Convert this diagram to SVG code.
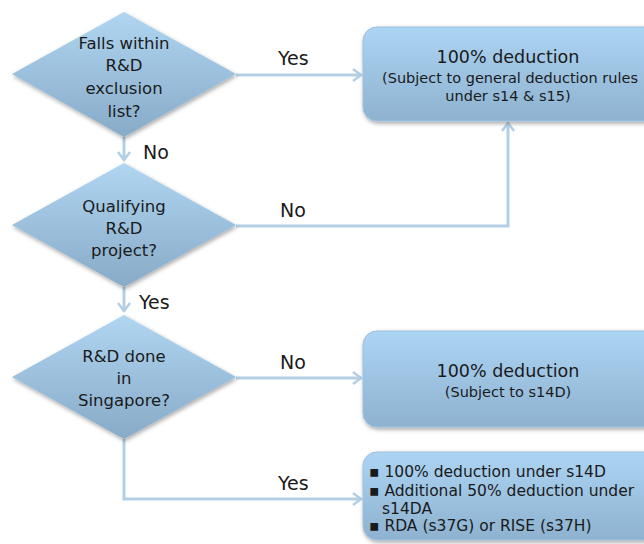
<svg xmlns="http://www.w3.org/2000/svg" width="644" height="544" viewBox="0 0 644 544">
<style>
text{font-family:"DejaVu Sans","Liberation Sans",sans-serif;fill:#1a1a1a}
.q{font-size:16.5px;text-anchor:middle}
.t{font-size:17.5px;text-anchor:middle}
.s{font-size:14.5px;text-anchor:middle}
.b{font-size:15.5px}
.lbl{font-size:19px}
.dia{fill:url(#gd);filter:url(#sh)}
.box{fill:url(#gb);stroke:#9cc0de;stroke-width:1;filter:url(#sh)}
.con{fill:none;stroke:#b3cfe5;stroke-width:3}
</style>
<defs>
<linearGradient id="gd" x1="0" y1="0" x2="0" y2="1">
<stop offset="0" stop-color="#b0d6f2"/>
<stop offset="1" stop-color="#87aac7"/>
</linearGradient>
<linearGradient id="gb" x1="0" y1="0" x2="0" y2="1">
<stop offset="0" stop-color="#acd4f3"/>
<stop offset="1" stop-color="#8eb2d0"/>
</linearGradient>
<filter id="sh" x="-10%" y="-10%" width="125%" height="130%">
<feDropShadow dx="1" dy="2" stdDeviation="2" flood-color="#000" flood-opacity="0.35"/>
</filter>
<marker id="ah" markerWidth="12" markerHeight="14" refX="10" refY="7" orient="auto" markerUnits="userSpaceOnUse">
<path d="M2,1 L10,7 L2,13" fill="none" stroke="#b3cfe5" stroke-width="2.5"/>
</marker>
</defs>
<g id="connectors">
<line class="con" x1="236" y1="75" x2="361" y2="75" marker-end="url(#ah)"/>
<line class="con" x1="124" y1="137" x2="124" y2="160" marker-end="url(#ah)"/>
<polyline class="con" points="236,226 508,226 508,123" marker-end="url(#ah)"/>
<line class="con" x1="124" y1="287" x2="124" y2="311" marker-end="url(#ah)"/>
<line class="con" x1="236" y1="378" x2="361" y2="378" marker-end="url(#ah)"/>
<polyline class="con" points="124,439 124,499 361,499" marker-end="url(#ah)"/>
<text class="lbl" x="278" y="65">Yes</text>
<text class="lbl" x="143" y="159">No</text>
<text class="lbl" x="280" y="217">No</text>
<text class="lbl" x="139" y="309">Yes</text>
<text class="lbl" x="280" y="369">No</text>
<text class="lbl" x="278" y="490">Yes</text>
</g>
<g id="q1">
<polygon class="dia" points="124,12 236,74 124,137 12,74"/>
<text class="q" x="124" y="49">Falls within</text>
<text class="q" x="124" y="71">R&amp;D</text>
<text class="q" x="124" y="94">exclusion</text>
<text class="q" x="124" y="117">list?</text>
</g>
<g id="q2">
<polygon class="dia" points="124,163 236,225 124,287 12,225"/>
<text class="q" x="124" y="212">Qualifying</text>
<text class="q" x="124" y="234">R&amp;D</text>
<text class="q" x="124" y="256">project?</text>
</g>
<g id="q3">
<polygon class="dia" points="124,315 236,377 124,439 12,377"/>
<text class="q" x="124" y="362">R&amp;D done</text>
<text class="q" x="124" y="384">in</text>
<text class="q" x="124" y="406">Singapore?</text>
</g>
<g id="r1">
<rect class="box" x="363" y="27" width="296" height="94" rx="14"/>
<text class="t" x="508" y="63">100% deduction</text>
<text class="s" x="510" y="83">(Subject to general deduction rules</text>
<text class="s" x="508" y="101">under s14 &amp; s15)</text>
</g>
<g id="r2">
<rect class="box" x="363" y="331" width="296" height="96" rx="14"/>
<text class="t" x="508" y="377">100% deduction</text>
<text class="s" x="508" y="397">(Subject to s14D)</text>
</g>
<g id="r3">
<rect class="box" x="363" y="452" width="296" height="88" rx="14"/>
<text class="b" x="369" y="477">▪ 100% deduction under s14D</text>
<text class="b" x="369" y="496">▪ Additional 50% deduction under</text>
<text class="b" x="382" y="514">s14DA</text>
<text class="b" x="369" y="531">▪ RDA (s37G) or RISE (s37H)</text>
</g>
</svg>
